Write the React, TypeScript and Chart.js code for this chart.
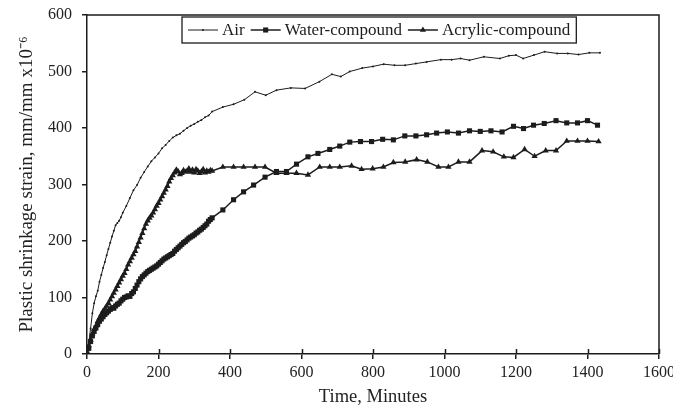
import React, { useEffect, useRef } from 'react';
import { Chart, registerables } from 'chart.js';

Chart.register(...registerables);

// ---- Data ----
const seriesLabels = ['Air', 'Water-compound', 'Acrylic-compound'];

const airTime = [0, 5, 10, 15, 20, 25, 30, 35, 40, 45, 50, 55, 60, 65, 70, 75, 80, 85, 90, 95,
  100, 110, 120, 130, 140, 150, 160, 170, 180, 190, 200, 210, 220, 230, 240, 250, 260, 270, 280, 290,
  300, 310, 320, 330, 340, 350, 380, 410, 440, 470, 500, 530, 570, 610, 650, 685,
  710, 735, 770, 800, 830, 860, 890, 920, 950, 990, 1020, 1045, 1070, 1110, 1155, 1180, 1200, 1220, 1250, 1280,
  1315, 1345, 1375, 1405, 1435];
const airStrain = [0, 20, 45, 72, 90, 102, 112, 128, 140, 152, 163, 175, 186, 197, 208, 218, 228, 232, 236, 242,
  250, 262, 276, 290, 299, 312, 322, 332, 341, 348, 355, 364, 370, 377, 383, 387, 390, 395, 400, 404,
  407, 411, 414, 419, 422, 429, 437, 442, 450, 464, 458, 467, 471, 470, 482, 495,
  491, 500, 506, 509, 513, 511, 511, 514, 517, 521, 521, 523, 520, 526, 523, 528, 529, 523, 529, 535,
  532, 532, 530, 533, 533];

const waterTime = [0, 5, 10, 15, 20, 25, 30, 35, 40, 45, 50, 55, 60, 65, 70, 75, 80, 85, 90, 95,
  100, 105, 110, 115, 120, 125, 130, 135, 140, 145, 150, 155, 160, 165, 170, 175, 180, 185, 190, 195,
  200, 205, 210, 215, 220, 225, 230, 235, 240, 245, 250, 255, 260, 265, 270, 275, 280, 285, 290, 295,
  300, 305, 310, 315, 320, 325, 330, 335, 340, 345, 350,
  380, 410, 438, 466, 498, 530, 558, 586, 618, 646, 679, 707, 735, 765, 796, 827, 857, 889, 920, 950,
  978, 1008, 1039, 1070, 1100, 1130, 1161, 1193, 1221, 1249, 1279, 1312, 1342, 1372, 1400, 1428];
const waterStrain = [0, 10, 22, 32, 40, 46, 52, 58, 62, 66, 70, 73, 76, 79, 82, 81, 85, 88, 90, 94,
  97, 100, 101, 103, 102, 107, 110, 116, 122, 128, 133, 137, 140, 143, 146, 148, 150, 152, 154, 156,
  159, 162, 165, 168, 170, 172, 174, 176, 178, 182, 185, 188, 191, 194, 197, 199, 202, 205, 207, 209,
  211, 214, 216, 219, 221, 224, 227, 230, 235, 238, 241,
  255, 273, 287, 299, 313, 323, 323, 336, 349, 355, 362, 368, 375, 376, 376, 380, 379, 386, 386, 388,
  391, 393, 391, 395, 394, 395, 393, 403, 399, 405, 408, 413, 409, 409, 413, 405];

const acrylicTime = [0, 5, 10, 15, 20, 25, 30, 35, 40, 45, 50, 55, 60, 65, 70, 75, 80, 85, 90, 95,
  100, 105, 110, 115, 120, 125, 130, 135, 140, 145, 150, 155, 160, 165, 170, 175, 180, 185, 190, 195,
  200, 205, 210, 215, 220, 225, 230, 235, 240, 245, 250, 255, 260, 265, 270, 275, 280, 285, 290, 295,
  300, 305, 310, 315, 320, 325, 330, 335, 340, 345, 350,
  380, 410, 438, 470, 498, 530, 558, 586, 618, 651, 679, 707, 740, 768, 799, 829, 857, 890, 922, 952,
  983, 1011, 1039, 1070, 1105, 1136, 1166, 1193, 1224, 1252, 1283, 1312, 1342, 1372, 1400, 1431];
const acrylicStrain = [0, 15, 25, 36, 44, 50, 58, 64, 70, 76, 80, 85, 90, 96, 102, 108, 114, 120, 126, 132,
  138, 143, 150, 158, 164, 170, 176, 182, 190, 198, 206, 214, 222, 230, 236, 241, 245, 250, 256, 262,
  267, 273, 279, 285, 291, 297, 305, 311, 316, 321, 326, 323, 318, 320, 325, 322, 324, 328, 322, 326,
  321, 327, 324, 320, 323, 327, 321, 324, 322, 325, 324,
  331, 331, 331, 331, 331, 320, 320, 320, 317, 331, 331, 331, 333, 327, 328, 331, 339, 340, 344, 340,
  331, 331, 340, 340, 360, 358, 349, 348, 362, 350, 360, 360, 377, 377, 377, 376];

const xTickValues = [0, 200, 400, 600, 800, 1000, 1200, 1400, 1600];
const yTickValues = [0, 100, 200, 300, 400, 500, 600];
const xTitle = 'Time, Minutes';
const yTitle = 'Plastic shrinkage strain, mm/mm x10\u207B\u2076';

// ---- Styles ----
const INK = '#1c1c1c';
const SERIF = '"Liberation Serif", "Times New Roman", serif';

function drawMarker(ctx: CanvasRenderingContext2D, style: string, x: number, y: number, r: number) {
  ctx.beginPath();
  if (style === 'rect') {
    const s = r * Math.SQRT2;
    ctx.rect(x - s / 2, y - s / 2, s, s);
  } else if (style === 'triangle') {
    ctx.moveTo(x, y - r);
    ctx.lineTo(x + r * 0.866, y + r * 0.5);
    ctx.lineTo(x - r * 0.866, y + r * 0.5);
    ctx.closePath();
  } else {
    ctx.arc(x, y, r, 0, Math.PI * 2);
  }
  ctx.fill();
}

const framePlugin = {
  id: 'frameAndLegend',
  afterDraw(chart: any) {
    const { ctx, chartArea } = chart;
    const { left, right, top, bottom } = chartArea;
    ctx.save();
    ctx.strokeStyle = INK;
    ctx.lineWidth = 1.5;
    ctx.beginPath();
    ctx.moveTo(left, top);
    ctx.lineTo(right, top);
    ctx.lineTo(right, bottom);
    ctx.stroke();
    // inward x ticks
    const xs = chart.scales.x;
    ctx.beginPath();
    xs.ticks.forEach((t: any) => {
      const px = Math.round(xs.getPixelForValue(t.value)) + 0.5;
      ctx.moveTo(px, bottom);
      ctx.lineTo(px, bottom - 5);
    });
    ctx.stroke();

    // boxed legend
    ctx.font = '17px ' + SERIF;
    ctx.textBaseline = 'middle';
    ctx.textAlign = 'left';
    const ly = 30;
    const boxLeft = 182;
    let x = 188;
    chart.data.datasets.forEach((ds: any) => {
      ctx.strokeStyle = INK;
      ctx.fillStyle = INK;
      ctx.lineWidth = ds.borderWidth;
      ctx.beginPath();
      ctx.moveTo(x, ly);
      ctx.lineTo(x + 30, ly);
      ctx.stroke();
      drawMarker(ctx, ds.pointStyle, x + 15, ly, ds.pointRadius);
      ctx.fillText(ds.label, x + 34, ly + 1);
      x = x + 34 + ctx.measureText(ds.label).width + 6;
    });
    ctx.strokeStyle = INK;
    ctx.lineWidth = 1.3;
    ctx.strokeRect(boxLeft, 17, x - boxLeft, 26);
    ctx.restore();
  },
};

function toPoints(xs: number[], ys: number[]) {
  return xs.map((t, i) => ({ x: t, y: ys[i] }));
}

export default function App() {
  const canvasRef = useRef<HTMLCanvasElement | null>(null);

  useEffect(() => {
    document.body.style.margin = '0';
    const canvas = canvasRef.current;
    if (!canvas) return;
    const chart = new Chart(canvas, {
      type: 'line',
      data: {
        datasets: [
          {
            label: seriesLabels[0],
            data: toPoints(airTime, airStrain),
            borderColor: INK,
            backgroundColor: INK,
            borderWidth: 1,
            pointStyle: 'circle',
            pointRadius: 1,
            pointBorderWidth: 0,
            tension: 0,
          },
          {
            label: seriesLabels[1],
            data: toPoints(waterTime, waterStrain),
            borderColor: INK,
            backgroundColor: INK,
            borderWidth: 1.5,
            pointStyle: 'rect',
            pointRadius: 3.6,
            pointBorderWidth: 0,
            tension: 0,
          },
          {
            label: seriesLabels[2],
            data: toPoints(acrylicTime, acrylicStrain),
            borderColor: INK,
            backgroundColor: INK,
            borderWidth: 1.5,
            pointStyle: 'triangle',
            pointRadius: 3.6,
            pointBorderWidth: 0,
            tension: 0,
          },
        ],
      },
      options: {
        responsive: false,
        animation: false,
        events: [],
        layout: { padding: { top: 15, right: 14, bottom: 0, left: 0 } },
        plugins: {
          legend: { display: false },
          tooltip: { enabled: false },
        },
        scales: {
          x: {
            type: 'linear',
            min: 0,
            max: 1600,
            afterBuildTicks: (scale: any) => {
              scale.ticks = xTickValues.map((v) => ({ value: v }));
            },
            afterFit: (scale: any) => {
              scale.height = 54;
              scale.paddingLeft = 0;
              scale.paddingRight = 0;
            },
            grid: { display: true, drawOnChartArea: false, drawTicks: true, tickLength: 5, color: INK, lineWidth: 1.5 },
            border: { display: true, color: INK, width: 1.5 },
            ticks: {
              autoSkip: false,
              maxRotation: 0,
              padding: 4,
              color: '#222',
              font: { family: SERIF, size: 16 },
              callback: (v: any) => String(v),
            },
            title: {
              display: true,
              text: xTitle,
              color: '#222',
              font: { family: SERIF, size: 18.5 },
              padding: { top: 0, bottom: 0 },
            },
          },
          y: {
            type: 'linear',
            min: 0,
            max: 600,
            afterBuildTicks: (scale: any) => {
              scale.ticks = yTickValues.map((v) => ({ value: v }));
            },
            afterFit: (scale: any) => {
              scale.width = 87;
              scale.paddingTop = 0;
              scale.paddingBottom = 0;
            },
            grid: { display: true, drawOnChartArea: false, drawTicks: true, tickLength: 5, color: INK, lineWidth: 1.5 },
            border: { display: true, color: INK, width: 1.5 },
            ticks: {
              padding: 10,
              color: '#222',
              font: { family: SERIF, size: 16 },
              callback: (v: any) => String(v),
            },
            title: {
              display: true,
              text: yTitle,
              color: '#222',
              font: { family: SERIF, size: 19 },
              padding: { top: 16, bottom: 0 },
            },
          },
        },
      },
      plugins: [framePlugin],
    } as any);
    return () => chart.destroy();
  }, []);

  return (
    <div style={{ position: 'absolute', left: 0, top: 0, width: 673, height: 408, background: '#fff' }}>
      <canvas ref={canvasRef} width={673} height={408} />
    </div>
  );
}
